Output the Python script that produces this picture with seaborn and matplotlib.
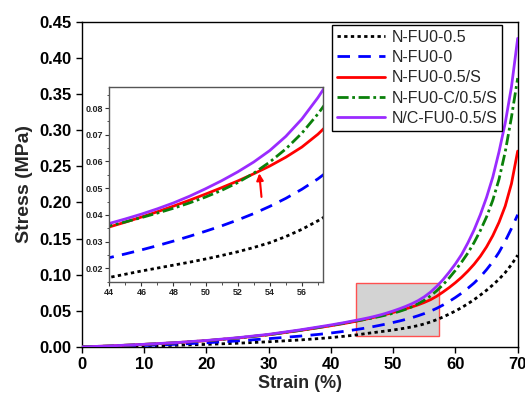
import numpy as np
import pandas as pd
import matplotlib
matplotlib.use("Agg")
import matplotlib.pyplot as plt
from matplotlib.patches import Rectangle
from matplotlib.ticker import MultipleLocator, FormatStrFormatter
import seaborn as sns

sns.set_theme(style="ticks")
plt.rcParams['font.family'] = ['Liberation Sans', 'DejaVu Sans']

strain = [0, 5, 10, 15, 20, 25, 30, 35, 38, 40, 42,
          44, 45, 46, 47, 48, 49, 50, 51, 52, 53, 54, 55, 56, 57,
          58, 59, 60, 61, 62, 63, 64, 65, 66, 67, 68, 69, 70]

s_nfu_05 = [0, 0.0005, 0.0013, 0.0023, 0.0036, 0.0052, 0.0072, 0.0097, 0.0116, 0.0130, 0.0147,
            0.0166, 0.0178, 0.0190, 0.0201, 0.0212, 0.0223, 0.0235, 0.0248, 0.0262, 0.0278,
            0.0296, 0.0319, 0.0346, 0.0378,
            0.0414, 0.0455, 0.0498, 0.0545, 0.0598, 0.0655, 0.0718, 0.0785, 0.0858, 0.0938,
            0.1030, 0.1140, 0.1270]
s_nfu_0 = [0, 0.0009, 0.0021, 0.0037, 0.0058, 0.0084, 0.0115, 0.0150, 0.0174, 0.0193, 0.0215,
           0.0240, 0.0254, 0.0269, 0.0285, 0.0302, 0.0320, 0.0339, 0.0359, 0.0381, 0.0405,
           0.0432, 0.0462, 0.0496, 0.0535,
           0.0580, 0.0630, 0.0685, 0.0745, 0.0812, 0.0885, 0.0970, 0.1070, 0.1180, 0.1310,
           0.1465, 0.1640, 0.1830]
s_nfu_05s = [0, 0.0016, 0.0036, 0.0058, 0.0087, 0.0124, 0.0169, 0.0228, 0.0267, 0.0294, 0.0323,
             0.0355, 0.0373, 0.0392, 0.0412, 0.0433, 0.0455, 0.0478, 0.0502, 0.0527, 0.0554,
             0.0583, 0.0616, 0.0654, 0.0702,
             0.0760, 0.0822, 0.0890, 0.0965, 0.1050, 0.1145, 0.1255, 0.1385, 0.1540, 0.1725,
             0.1950, 0.2260, 0.2710]
s_nfu_c05s = [0, 0.0016, 0.0036, 0.0058, 0.0087, 0.0124, 0.0169, 0.0229, 0.0269, 0.0298, 0.0328,
              0.0359, 0.0374, 0.0390, 0.0407, 0.0425, 0.0445, 0.0467, 0.0492, 0.0521, 0.0556,
              0.0598, 0.0647, 0.0706, 0.0778,
              0.0860, 0.0955, 0.1060, 0.1175, 0.1300, 0.1445, 0.1610, 0.1800, 0.2030, 0.2320,
              0.2700, 0.3180, 0.3720]
s_ncfu_05s = [0, 0.0017, 0.0037, 0.0060, 0.0090, 0.0128, 0.0175, 0.0236, 0.0277, 0.0305, 0.0335,
              0.0368, 0.0385, 0.0403, 0.0423, 0.0445, 0.0470, 0.0498, 0.0528, 0.0561, 0.0598,
              0.0641, 0.0694, 0.0759, 0.0839,
              0.0930, 0.1035, 0.1150, 0.1280, 0.1440, 0.1620, 0.1830, 0.2070, 0.2350, 0.2700,
              0.3100, 0.3600, 0.4270]

labels = ['N-FU0-0.5', 'N-FU0-0', 'N-FU0-0.5/S', 'N-FU0-C/0.5/S', 'N/C-FU0-0.5/S']
series = [s_nfu_05, s_nfu_0, s_nfu_05s, s_nfu_c05s, s_ncfu_05s]
colors = ['#000000', '#0000FF', '#FF0000', '#0A800A', '#9A2BFF']
dash_styles = [(1.2, 1.2), (4.5, 3.0), '', (4.0, 1.3, 1.0, 1.3), '']

df = pd.concat([pd.DataFrame({'Strain': strain, 'Stress': s, 'Sample': lab})
                for lab, s in zip(labels, series)], ignore_index=True)
palette = dict(zip(labels, colors))
dashes = dict(zip(labels, dash_styles))

fig = plt.figure(figsize=(5.25, 4.01), dpi=100)
ax = fig.add_axes([0.1556, 0.1347, 0.8305, 0.8112])

ax.add_patch(Rectangle((44, 0.015), 13.3, 0.073, facecolor='#d3d3d3',
                       edgecolor='#ff5050', lw=1.0, zorder=1))

sns.lineplot(data=df, x='Strain', y='Stress', hue='Sample', style='Sample',
             palette=palette, dashes=dashes, hue_order=labels, style_order=labels,
             lw=2, ax=ax, zorder=3, sort=False)

ax.set_xlim(0, 70)
ax.set_ylim(0, 0.45)
ax.xaxis.set_major_locator(MultipleLocator(10))
ax.yaxis.set_major_locator(MultipleLocator(0.05))
ax.yaxis.set_major_formatter(FormatStrFormatter('%.2f'))
ax.tick_params(direction='out', length=4, width=1, labelsize=12, colors='black')
for t in ax.get_xticklabels() + ax.get_yticklabels():
    t.set_fontweight('bold')
ax.set_xlabel('Strain (%)', fontsize=13, fontweight='bold', labelpad=2)
ax.set_ylabel('Stress (MPa)', fontsize=14, fontweight='bold', labelpad=4)
for sp in ax.spines.values():
    sp.set_color('black')
    sp.set_linewidth(1)

leg = ax.legend(loc='upper right', bbox_to_anchor=(0.964, 0.99), borderaxespad=0,
                fontsize=11.5, handlelength=3.0, labelspacing=0.33, handletextpad=0.4,
                borderpad=0.3, fancybox=False, framealpha=1, edgecolor='black')
leg.get_frame().set_linewidth(1)

# inset
axin = fig.add_axes([0.2082, 0.2975, 0.4065, 0.4863])
sns.lineplot(data=df, x='Strain', y='Stress', hue='Sample', style='Sample',
             palette=palette, dashes=dashes, hue_order=labels, style_order=labels,
             lw=2, ax=axin, legend=False, sort=False)
axin.set_xlim(44, 57.3)
axin.set_ylim(0.015, 0.088)
axin.set_xlabel('')
axin.set_ylabel('')
axin.xaxis.set_major_locator(MultipleLocator(2))
axin.xaxis.set_minor_locator(MultipleLocator(1))
axin.yaxis.set_major_locator(MultipleLocator(0.01))
axin.yaxis.set_minor_locator(MultipleLocator(0.005))
axin.yaxis.set_major_formatter(FormatStrFormatter('%.2f'))
axin.tick_params(which='major', direction='out', length=3, width=0.8, labelsize=6.5,
                 pad=1.5, colors='#333333', labelcolor='#222222')
axin.tick_params(which='minor', direction='out', length=1.8, width=0.6, colors='#333333')
for t in axin.get_xticklabels() + axin.get_yticklabels():
    t.set_fontweight('bold')
for sp in axin.spines.values():
    sp.set_color('#555555')
    sp.set_linewidth(1)

axin.annotate('', xy=(53.33, 0.0566), xytext=(53.5, 0.0457),
              arrowprops=dict(arrowstyle='-|>', color='red', lw=1.5,
                              mutation_scale=10))

fig.savefig('out.png', dpi=100)
